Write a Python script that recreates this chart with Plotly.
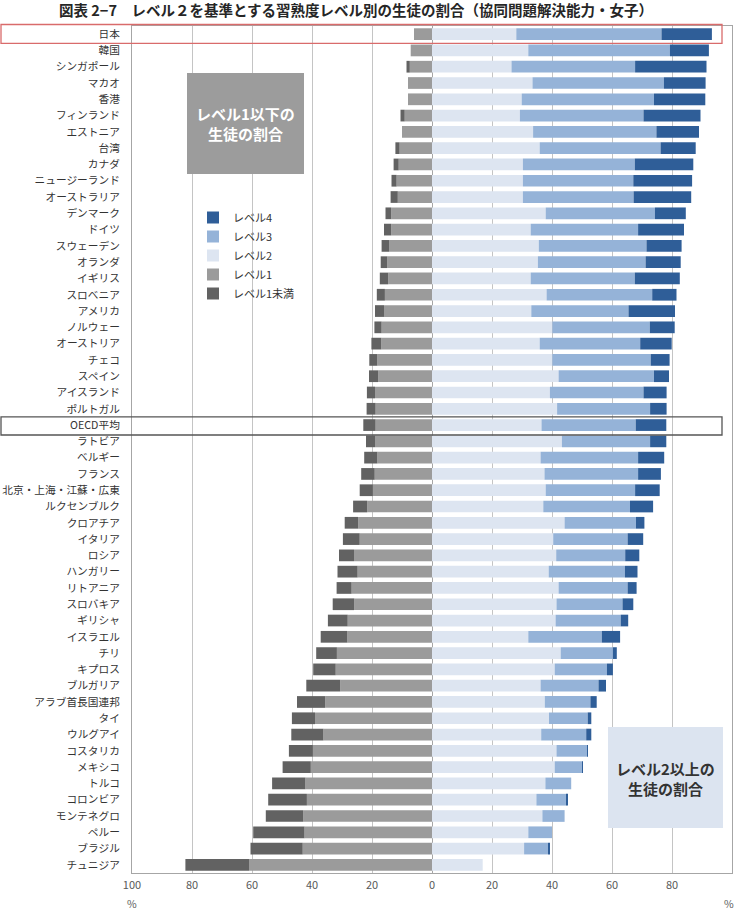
import plotly.graph_objects as go

countries = ["日本","韓国","シンガポール","マカオ","香港","フィンランド","エストニア","台湾","カナダ",
             "ニュージーランド","オーストラリア","デンマーク","ドイツ","スウェーデン","オランダ","イギリス",
             "スロベニア","アメリカ","ノルウェー","オーストリア","チェコ","スペイン","アイスランド","ポルトガル",
             "OECD平均","ラトビア","ベルギー","フランス","北京・上海・江蘇・広東","ルクセンブルク","クロアチア",
             "イタリア","ロシア","ハンガリー","リトアニア","スロバキア","ギリシャ","イスラエル","チリ","キプロス",
             "ブルガリア","アラブ首長国連邦","タイ","ウルグアイ","コスタリカ","メキシコ","トルコ","コロンビア",
             "モンテネグロ","ペルー","ブラジル","チュニジア"]

below1 = [0.0,0.0,1.1,0.0,0.0,1.4,0.0,1.4,1.7,1.7,2.4,1.9,2.4,2.5,2.2,2.8,2.7,3.0,2.4,3.3,2.7,3.1,2.7,3.0,
          4.1,3.0,4.4,4.5,4.4,4.7,4.5,5.6,5.0,6.7,5.0,7.2,6.6,8.9,6.9,7.5,11.3,9.4,7.7,10.7,8.0,9.4,11.1,12.9,
          12.5,17.1,17.4,21.2]
level1 = [6.0,7.1,7.4,8.0,8.0,9.1,10.0,10.8,11.1,11.8,11.4,13.6,13.6,14.3,14.9,14.6,15.7,16.0,16.8,16.9,18.2,
          17.9,19.0,18.8,18.8,19.0,18.2,19.1,19.7,21.6,24.6,24.1,26.0,24.8,26.8,25.9,28.1,28.2,31.7,32.1,30.6,
          35.6,39.0,36.2,39.7,40.4,42.2,41.7,42.9,42.5,43.1,61.0]
level2 = [28.1,32.1,26.5,33.5,29.9,29.3,33.7,35.9,30.3,30.3,30.3,37.9,32.9,35.6,35.3,32.9,38.2,33.1,40.1,35.9,
          40.1,42.2,39.3,41.7,36.5,43.3,36.2,37.5,37.9,37.1,44.2,40.4,41.4,38.9,42.2,41.5,41.2,32.1,42.9,40.9,
          36.2,37.6,39.0,36.4,41.5,40.9,37.8,34.8,36.8,32.1,30.7,16.9]
level3 = [48.4,47.2,41.2,43.8,44.1,41.2,41.1,40.3,37.3,36.8,36.9,36.4,35.8,35.9,35.9,34.7,35.2,32.4,32.5,33.5,
          32.8,31.8,31.2,31.0,31.4,29.4,32.5,31.2,29.8,28.9,23.8,24.8,23.0,25.4,23.0,22.0,21.7,24.5,17.4,17.4,
          19.3,15.2,12.9,15.0,10.2,9.1,8.6,10.0,7.4,7.9,8.0,0.0]
level4 = [16.8,13.0,23.8,13.9,17.1,19.0,14.2,11.7,19.5,19.6,19.2,10.3,15.3,11.7,11.7,15.0,8.1,15.5,8.3,10.5,
          6.3,5.0,7.7,5.5,10.2,5.4,8.7,7.6,8.2,7.7,2.8,5.2,4.7,4.2,3.0,3.6,2.5,6.1,1.3,2.0,2.5,2.1,1.2,1.7,
          0.2,0.1,0.0,0.5,0.0,0.0,0.6,0.0]

tick_vals = [-100, -80, -60, -40, -20, 0, 20, 40, 60, 80, 100]
tick_text = ["100", "80", "60", "40", "20", "0", "20", "40", "60", "80", "100"]

FONT = "Noto Sans CJK JP"
C_L4, C_L3, C_L2, C_L1, C_B1 = "#2f5e98", "#95b3d8", "#dde5f1", "#9b9b9b", "#626262"

fig = go.Figure()
fig.add_trace(go.Bar(y=countries, x=[-v for v in level1], name="レベル1", orientation="h",
                     marker=dict(color=C_L1, line=dict(width=0)), legendrank=4))
fig.add_trace(go.Bar(y=countries, x=[-v for v in below1], name="レベル1未満", orientation="h",
                     marker=dict(color=C_B1, line=dict(width=0)), legendrank=5))
fig.add_trace(go.Bar(y=countries, x=level2, name="レベル2", orientation="h",
                     marker=dict(color=C_L2, line=dict(width=0)), legendrank=3))
fig.add_trace(go.Bar(y=countries, x=level3, name="レベル3", orientation="h",
                     marker=dict(color=C_L3, line=dict(width=0)), legendrank=2))
fig.add_trace(go.Bar(y=countries, x=level4, name="レベル4", orientation="h",
                     marker=dict(color=C_L4, line=dict(width=0)), legendrank=1))

W, H = 737, 910
L, R, T, B = 132, 5, 26, 37
PW, PH = W - L - R, H - T - B

def px(x):
    return (x - L) / PW

def py(y):
    return (H - B - y) / PH

shapes = [
    dict(type="rect", xref="paper", yref="paper", x0=px(187), x1=px(304), y0=py(174), y1=py(73),
         fillcolor="#9c9c9c", line=dict(width=0), layer="above"),
    dict(type="rect", xref="paper", yref="paper", x0=px(608), x1=px(723), y0=py(828), y1=py(727),
         fillcolor="#dce4f0", line=dict(width=0), layer="above"),
    dict(type="rect", xref="paper", yref="paper", x0=px(1), x1=px(722), y0=py(43.3), y1=py(24.5),
         line=dict(color="#d96b6b", width=1.3), layer="above"),
    dict(type="rect", xref="paper", yref="paper", x0=px(1), x1=px(722), y0=py(435), y1=py(416.8),
         line=dict(color="#555555", width=1.3), layer="above"),
]

annotations = [
    dict(xref="paper", yref="paper", x=px(245.5), y=py(123.5), text="<b>レベル1以下の<br>生徒の割合</b>",
         showarrow=False, xanchor="center", yanchor="middle",
         font=dict(family=FONT, size=15, color="white"), align="center"),
    dict(xref="paper", yref="paper", x=px(665.5), y=py(778.5), text="<b>レベル2以上の<br>生徒の割合</b>",
         showarrow=False, xanchor="center", yanchor="middle",
         font=dict(family=FONT, size=15, color="#333333"), align="center"),
    dict(xref="paper", yref="paper", x=px(131.7), y=py(903), text="%", showarrow=False,
         font=dict(family=FONT, size=10.5, color="#595959"), xanchor="center", yanchor="middle"),
    dict(xref="paper", yref="paper", x=px(729), y=py(903), text="%", showarrow=False,
         font=dict(family=FONT, size=10.5, color="#595959"), xanchor="center", yanchor="middle"),
]

fig.update_layout(
    width=W, height=H,
    margin=dict(l=L, r=R, t=T, b=B, pad=0),
    barmode="relative",
    bargap=0.28,
    paper_bgcolor="white",
    plot_bgcolor="white",
    font=dict(family=FONT, color="#333333"),
    title=dict(text="<b>図表 2−7　レベル２を基準とする習熟度レベル別の生徒の割合（協同問題解決能力・女子）</b>",
               x=356 / W, xanchor="center", xref="container",
               y=1 - 11 / H, yanchor="middle", yref="container",
               font=dict(family=FONT, size=14.5, color="#262626")),
    showlegend=True,
    legend=dict(x=px(193), y=py(203), xanchor="left", yanchor="top",
                font=dict(family=FONT, size=11, color="#333333"),
                bgcolor="rgba(0,0,0,0)", itemwidth=30, traceorder="normal"),
    xaxis=dict(range=[-100, 100], tickvals=tick_vals, ticktext=tick_text, automargin=False,
               showgrid=True, gridcolor="#c4c4c4", gridwidth=1,
               zeroline=True, zerolinecolor="#a6a6a6", zerolinewidth=1,
               showline=True, linecolor="#a6a6a6", linewidth=1, mirror=True,
               ticks="", ticklabelstandoff=2,
               tickfont=dict(family=FONT, size=11, color="#595959"),
               fixedrange=True),
    yaxis=dict(categoryorder="array", categoryarray=countries[::-1], type="category", automargin=False,
               showgrid=False, showline=True, linecolor="#a6a6a6", linewidth=1, mirror=True,
               ticks="", ticklabelstandoff=9,
               tickfont=dict(family=FONT, size=10.7, color="#333333"), fixedrange=True),
    shapes=shapes,
    annotations=annotations,
)

fig.write_html("out.html")
